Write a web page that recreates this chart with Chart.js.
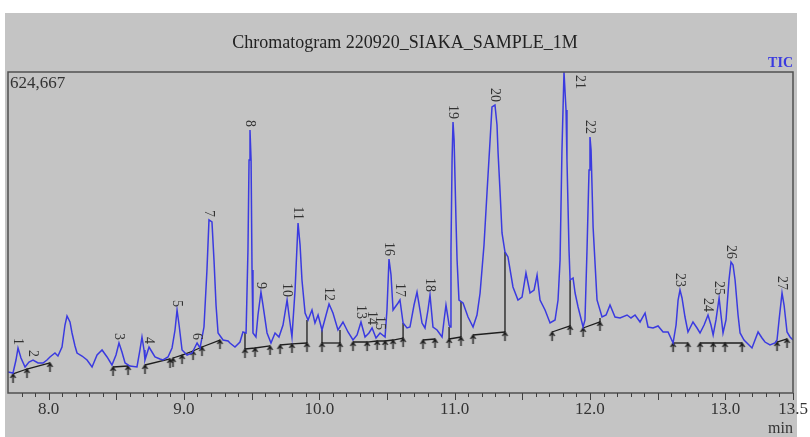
<!DOCTYPE html>
<html>
<head>
<meta charset="utf-8">
<script src="https://cdn.jsdelivr.net/npm/chart.js@4"></script>
<style>
  html, body { margin: 0; padding: 0; background: #fff; }
  #wrap { width: 810px; height: 437px; position: relative; }
</style>
</head>
<body>
<div id="wrap"><canvas id="tic"></canvas></div>
<script>
// TIC trace, retention time (min) and intensity (counts)
const retentionTime = [
  7.700, 7.737, 7.759, 7.774, 7.796, 7.826, 7.855, 7.885, 7.922, 7.959,
  7.988, 8.010, 8.047, 8.069, 8.099, 8.121, 8.136, 8.158, 8.173, 8.195,
  8.210, 8.247, 8.284, 8.321, 8.358, 8.395, 8.432, 8.468, 8.498, 8.520,
  8.542, 8.565, 8.601, 8.653, 8.675, 8.690, 8.705, 8.712, 8.742, 8.764,
  8.786, 8.823, 8.845, 8.882, 8.912, 8.934, 8.949, 8.964, 8.986, 9.023,
  9.060, 9.097, 9.119, 9.148, 9.170, 9.185, 9.207, 9.222, 9.237, 9.252,
  9.289, 9.326, 9.340, 9.377, 9.414, 9.436, 9.459, 9.473, 9.481, 9.488,
  9.496, 9.503, 9.510, 9.532, 9.547, 9.569, 9.584, 9.614, 9.643, 9.673,
  9.702, 9.732, 9.762, 9.776, 9.798, 9.821, 9.843, 9.858, 9.872, 9.895,
  9.917, 9.946, 9.968, 9.991, 10.020, 10.050, 10.072, 10.101, 10.138, 10.175,
  10.212, 10.249, 10.279, 10.308, 10.338, 10.367, 10.390, 10.419, 10.449, 10.486,
  10.500, 10.515, 10.530, 10.545, 10.582, 10.596, 10.619, 10.648, 10.670, 10.700,
  10.722, 10.744, 10.759, 10.781, 10.803, 10.818, 10.840, 10.870, 10.907, 10.922,
  10.936, 10.951, 10.959, 10.966, 10.973, 10.981, 10.988, 10.996, 11.010, 11.018,
  11.032, 11.062, 11.099, 11.136, 11.165, 11.188, 11.217, 11.239, 11.262, 11.276,
  11.298, 11.313, 11.321, 11.335, 11.350, 11.372, 11.394, 11.431, 11.468, 11.498,
  11.527, 11.557, 11.587, 11.609, 11.631, 11.668, 11.705, 11.742, 11.764, 11.779,
  11.793, 11.808, 11.823, 11.830, 11.845, 11.853, 11.875, 11.890, 11.912, 11.949,
  11.963, 11.978, 11.993, 12.000, 12.008, 12.023, 12.052, 12.089, 12.119, 12.148,
  12.185, 12.222, 12.274, 12.303, 12.333, 12.370, 12.407, 12.429, 12.466, 12.503,
  12.540, 12.577, 12.614, 12.636, 12.651, 12.665, 12.680, 12.702, 12.724, 12.761,
  12.791, 12.813, 12.843, 12.872, 12.894, 12.910, 12.931, 12.954, 12.968, 12.983,
  13.005, 13.027, 13.042, 13.057, 13.072, 13.094, 13.109, 13.138, 13.160, 13.197,
  13.242, 13.271, 13.293, 13.330, 13.367, 13.382, 13.397, 13.419, 13.434, 13.456,
  13.478, 13.500
];
const intensity = [
  40900, 38900, 64200, 87600, 68100, 50600, 60300, 64200, 58400, 58400,
  64200, 70100, 77800, 72000, 89500, 132300, 149800, 138200, 116800, 91500,
  77800, 72000, 64200, 50600, 73900, 83700, 70100, 54500, 73900, 97300,
  79800, 58400, 52500, 50600, 83700, 109000, 83700, 64200, 89500, 79800,
  70100, 66200, 64200, 70100, 87600, 122600, 161500, 132300, 83700, 73900,
  77800, 97300, 87600, 128400, 239400, 336700, 332800, 258800, 171200, 116800,
  103100, 101200, 97300, 89500, 99200, 118700, 116800, 278300, 453400, 511800,
  453400, 239400, 116800, 109000, 151800, 196500, 171200, 116800, 97300, 116800,
  109000, 132300, 181000, 151800, 109000, 200400, 330800, 288000, 219900, 155700,
  142100, 161500, 136200, 151800, 122600, 151800, 173200, 155700, 122600, 138200,
  118700, 103100, 112900, 138200, 109000, 116800, 126500, 107000, 116800, 109000,
  161500, 260800, 229600, 161500, 175100, 181000, 136200, 126500, 128400, 171200,
  196500, 161500, 136200, 126500, 161500, 190700, 128400, 122600, 109000, 142100,
  171200, 146000, 132300, 128400, 278300, 453400, 527400, 492300, 336700, 258800,
  181000, 175100, 147900, 128400, 151800, 194600, 288000, 389200, 492300, 556600,
  560400, 521500, 467000, 395000, 311400, 274400, 264700, 206300, 181000, 186800,
  233500, 194600, 200400, 229600, 181000, 161500, 136200, 142100, 181000, 258800,
  472900, 624667, 550700, 453400, 278300, 219900, 223800, 194600, 167400, 128400,
  142100, 278300, 434000, 498200, 472900, 323000, 181000, 147900, 151800, 171200,
  147900, 146000, 151800, 146000, 151800, 138200, 155700, 128400, 126500, 130400,
  118700, 118700, 97300, 132300, 181000, 200400, 184900, 147900, 118700, 138200,
  126500, 116800, 132300, 151800, 132300, 112900, 142100, 184900, 151800, 116800,
  142100, 219900, 254900, 249100, 219900, 151800, 116800, 103100, 97300, 87600,
  118700, 107000, 99200, 93400, 97300, 103100, 142100, 194600, 171200, 118700,
  109000, 103100
];

// integrated peaks (number, apex time, apex height)
const peakNumbers = [1, 2, 3, 4, 5, 6, 7, 8, 9, 10, 11, 12, 13, 14, 15, 16, 17, 18, 19, 20, 21, 22, 23, 24, 25, 26, 27];
const peakTimes = [7.774, 7.885, 8.520, 8.742, 8.949, 9.097, 9.185, 9.488, 9.569, 9.762, 9.843, 10.072, 10.308, 10.390,
  10.449, 10.515, 10.596, 10.818, 10.988, 11.298, 11.808, 12.000, 12.665, 12.872, 12.954, 13.042, 13.419];
const peakHeights = [87600, 64200, 97300, 89500, 161500, 97300, 336700, 511800, 196500, 181000, 330800, 173200, 138200, 126500,
  116800, 260800, 181000, 190700, 527400, 560400, 624667, 498200, 200400, 151800, 184900, 254900, 194600];

// integration baselines (each row is one baseline, points are start/stop marks)
const baselineTimes = [
  [7.737, 7.840, 8.010],
  [8.476, 8.587],
  [8.712, 8.897],
  [8.919, 8.986, 9.067, 9.133, 9.266],
  [9.451, 9.525, 9.636],
  [9.710, 9.798, 9.909],
  [10.020, 10.153],
  [10.249, 10.353, 10.427, 10.486, 10.545, 10.619],
  [10.766, 10.855],
  [10.959, 11.047],
  [11.136, 11.372],
  [11.720, 11.853],
  [11.949, 12.074],
  [12.614, 12.724],
  [12.813, 12.910, 12.998, 13.124],
  [13.382, 13.456]
];
const baselineLevels = [
  [37000, 46700, 58400],
  [50600, 52500],
  [54500, 66200],
  [68100, 73900, 81700, 89500, 103100],
  [85600, 87600, 91500],
  [93400, 95400, 97300],
  [97300, 97300],
  [99200, 99200, 101200, 101200, 103100, 107000],
  [103100, 105100],
  [105100, 109000],
  [112900, 118700],
  [118700, 130400],
  [126500, 138200],
  [97300, 97300],
  [97300, 97300, 97300, 97300],
  [99200, 105100]
];
// perpendicular drops between baseline and trace
const dropTimes = [9.451, 9.909, 10.020, 10.153, 10.619, 10.959, 11.047, 11.372, 11.853, 12.074];
const dropFrom = [85600, 97300, 97300, 97300, 107000, 105100, 109000, 118700, 130400, 138200];
const dropTo = [116800, 142100, 122600, 122600, 136200, 128400, 177100, 274400, 219900, 146000];

const xTickLabels = ['8.0', '9.0', '10.0', '11.0', '12.0', '13.0', '13.5'];
const yMax = 624667;

const serif = '"Liberation Serif", "Times New Roman", serif';
const blue = '#3a3ae0';
const ink = '#1e1e1e';

// small up-arrow used for the start/stop marks
const mark = document.createElement('canvas');
mark.width = 9; mark.height = 24;
(function () {
  const c = mark.getContext('2d');
  c.strokeStyle = ink;
  c.lineWidth = 1.4;
  c.beginPath();
  c.moveTo(4.5, 12); c.lineTo(4.5, 21);
  c.moveTo(2, 16); c.lineTo(4.5, 12); c.lineTo(7, 16);
  c.stroke();
})();

const datasets = [{
  data: retentionTime.map((t, i) => ({ x: t, y: intensity[i] })),
  borderColor: blue,
  borderWidth: 1.5,
  pointRadius: 0,
  tension: 0
}];
baselineTimes.forEach((ts, j) => {
  datasets.push({
    data: ts.map((t, i) => ({ x: t, y: baselineLevels[j][i] })),
    borderColor: ink,
    borderWidth: 1.3,
    pointStyle: mark,
    pointRadius: 5,
    tension: 0
  });
});
dropTimes.forEach((t, j) => {
  datasets.push({
    data: [{ x: t, y: dropFrom[j] }, { x: t, y: dropTo[j] }],
    borderColor: ink,
    borderWidth: 1.3,
    pointRadius: 0
  });
});

const decor = {
  id: 'decor',
  beforeDraw(chart) {
    const ctx = chart.ctx;
    ctx.save();
    ctx.fillStyle = '#fff';
    ctx.fillRect(0, 0, chart.width, chart.height);
    ctx.fillStyle = '#c4c4c4';
    ctx.fillRect(5, 13, 792, chart.height - 13);
    ctx.restore();
  },
  afterDraw(chart) {
    const ctx = chart.ctx;
    const a = chart.chartArea;
    const xs = chart.scales.x, ys = chart.scales.y;
    ctx.save();
    // frame
    ctx.strokeStyle = '#505050';
    ctx.lineWidth = 1.5;
    ctx.strokeRect(a.left, a.top, a.right - a.left, a.bottom - a.top);
    // tick marks
    ctx.lineWidth = 1;
    ctx.strokeStyle = '#404040';
    xs.ticks.forEach(tk => {
      const k = Math.round(tk.value * 10);
      const len = k % 5 === 0 ? 7 : 4;
      const px = Math.round(xs.getPixelForValue(tk.value)) + 0.5;
      ctx.beginPath();
      ctx.moveTo(px, a.bottom);
      ctx.lineTo(px, a.bottom + len);
      ctx.stroke();
    });
    // texts
    ctx.fillStyle = '#222';
    ctx.font = '18px ' + serif;
    ctx.textAlign = 'center';
    ctx.textBaseline = 'alphabetic';
    ctx.fillText('Chromatogram 220920_SIAKA_SAMPLE_1M', 405, 48);
    ctx.fillStyle = blue;
    ctx.font = 'bold 14px ' + serif;
    ctx.textAlign = 'right';
    ctx.fillText('TIC', 793, 67);
    ctx.fillStyle = '#333';
    ctx.font = '17px ' + serif;
    ctx.textAlign = 'left';
    ctx.fillText(yMax.toLocaleString('en-US'), a.left + 2, 88);
    ctx.font = '16px ' + serif;
    ctx.textAlign = 'right';
    ctx.fillText('min', 793, 433);
    // peak numbers, rotated
    ctx.font = '14px ' + serif;
    ctx.fillStyle = '#333';
    peakNumbers.forEach((n, i) => {
      let px = xs.getPixelForValue(peakTimes[i]);
      let py = ys.getPixelForValue(peakHeights[i]) - 3;
      const w = ctx.measureText(String(n)).width;
      if (py - w < a.top) { px += 16; py = a.top + w + 3; }
      ctx.save();
      ctx.translate(px, py);
      ctx.rotate(Math.PI / 2);
      ctx.textAlign = 'right';
      ctx.textBaseline = 'middle';
      ctx.fillText(String(n), 0, 0);
      ctx.restore();
    });
    ctx.restore();
  }
};

new Chart(document.getElementById('tic'), {
  type: 'line',
  data: { datasets },
  plugins: [decor],
  options: {
    responsive: true,
    maintainAspectRatio: false,
    animation: false,
    layout: { padding: { left: 8, right: 17, top: 72, bottom: 0 } },
    plugins: { legend: { display: false }, tooltip: { enabled: false } },
    scales: {
      x: {
        type: 'linear',
        min: 7.7,
        max: 13.5,
        afterBuildTicks(scale) {
          const t = [];
          for (let k = 78; k <= 135; k++) t.push({ value: k / 10 });
          scale.ticks = t;
        },
        afterFit(scale) {
          scale.height = 44;
          scale.paddingLeft = 0;
          scale.paddingRight = 0;
        },
        border: { display: false },
        grid: { display: true, drawOnChartArea: false, drawTicks: false },
        ticks: {
          autoSkip: false,
          maxRotation: 0,
          padding: 6,
          color: '#333',
          font: { family: serif, size: 17 },
          callback(v) {
            const k = Math.round(v * 10);
            const s = (k / 10).toFixed(1);
            return (k % 10 === 0 || k === 135) && xTickLabels.includes(s) ? s : '';
          }
        }
      },
      y: { display: false, min: 0, max: yMax }
    }
  }
});
</script>
</body>
</html>
